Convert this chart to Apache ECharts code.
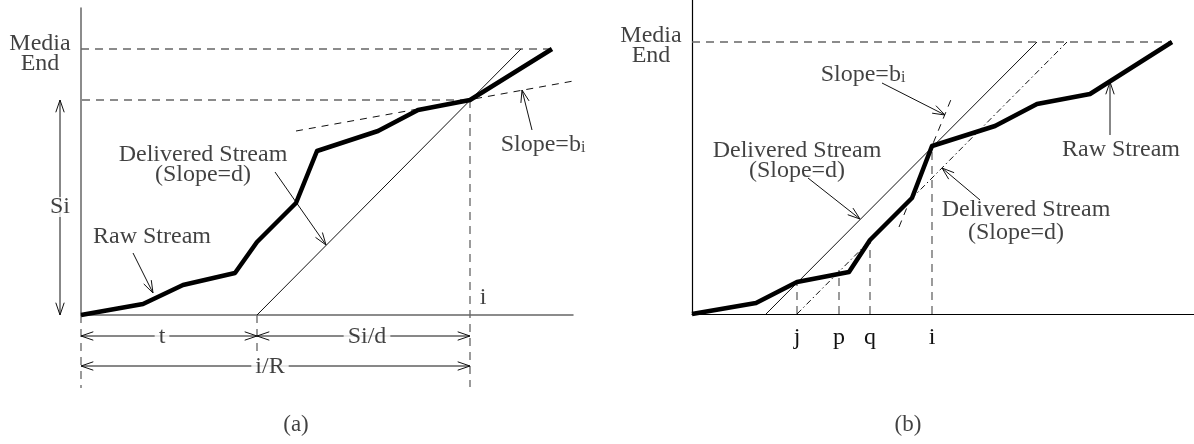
<!DOCTYPE html>
<html><head><meta charset="utf-8">
<script src="https://cdn.jsdelivr.net/npm/echarts@6/dist/echarts.min.js"></script>
<style>html,body{margin:0;padding:0;background:#fff}#chart{width:1194px;height:444px}</style>
</head><body><div id="chart"></div>
<script>
// ---------- panel (a): bytes vs. time ----------
const rawStreamA = [[0,0],[62,11],[102,30],[154,42],[176,73],[215,112],[236,164],[297,184],[337,205],[389,215],[471,266]];
const deliveredA = [[176,0],[440,266]];
const slopeBiA = [[215,184],[498,235]];
const guidesA = [
  [[0,266],[471,266]],      // media end
  [[-41,215],[389,215]],    // Si level
  [[-41,0],[0,0]],
  [[389,215],[389,-72]],    // i
  [[0,0],[0,-73]],
  [[176,0],[176,-42]]
];
// arrows: x1, y1, x2, y2, head at start, head at end
const arrowsA = [
  [-21,0,-21,215,1,1],
  [0,-21,176,-21,1,1],
  [176,-21,389,-21,1,1],
  [0,-51,389,-51,1,1],
  [52,62,72,22,0,1],
  [194,143,245,70,0,1],
  [451,185,441,225,0,1]
];
const labelsA = [
  ['Media\nEnd',-41,261],
  ['Si',-21,108,'box'],
  ['t',81,-22,'box'],
  ['Si/d',286,-22,'box'],
  ['i/R',189,-52,'box'],
  ['Raw Stream',71,78],
  ['Delivered Stream\n(Slope=d)',122,150],
  ['Slope=b_i',462,170],
  ['i',402,17],
  ['(a)',215,-110]
];

// ---------- panel (b) ----------
const rawStreamB = [[0,0],[64,11],[105,32],[157,42],[178,74],[220,116],[240,168],[303,188],[345,210],[398,220],[480,272]];
const deliveredB = [[74,0],[345,272]];
const deliveredLateB = [[105,0],[375,272]];
const slopeBiB = [[207,87],[260,217]];
const guidesB = [
  [[0,272],[480,272]],
  [[105,0],[105,32]],
  [[147,0],[147,44]],
  [[178,0],[178,74]],
  [[240,0],[240,168]]
];
const tickValuesB = [105,147,178,240];
const tickLabelsB = ['j','p','q','i'];
const arrowsB = [
  [190,231,253,199,0,1],
  [116,136,168,95,0,1],
  [418,179,418,232,0,1],
  [288,114,250,146,0,1]
];
const labelsB = [
  ['Media\nEnd',-41,268],
  ['Slope=b_i',171,239],
  ['Delivered Stream\n(Slope=d)',105,153],
  ['Raw Stream',429,164],
  ['Delivered Stream',334,104],
  ['(Slope=d)',324,81],
  ['(b)',216,-111]
];

const FONT = 'Liberation Serif';
const INK = '#111';
const GRAY = '#666';

function lineSeries(data, idx, style) {
  return {
    type: 'line', xAxisIndex: idx, yAxisIndex: idx, data: data,
    symbol: 'none', clip: false, animation: false, silent: true,
    lineStyle: style, z: style.z || 3
  };
}

function arrowSeries(data, idx) {
  return {
    type: 'custom', xAxisIndex: idx, yAxisIndex: idx, data: data, clip: false,
    animation: false, silent: true, z: 4,
    renderItem: function (params, api) {
      const a = api.coord([api.value(0), api.value(1)]);
      const b = api.coord([api.value(2), api.value(3)]);
      const ang = Math.atan2(b[1] - a[1], b[0] - a[0]);
      const L = 13, w = 0.33;
      const style = { stroke: INK, lineWidth: 1, fill: null };
      const kids = [{ type: 'line', shape: { x1: a[0], y1: a[1], x2: b[0], y2: b[1] }, style: style }];
      function head(p, dir) {
        kids.push({ type: 'polyline', shape: { points: [
          [p[0] - L * Math.cos(dir - w), p[1] - L * Math.sin(dir - w)], p,
          [p[0] - L * Math.cos(dir + w), p[1] - L * Math.sin(dir + w)]
        ] }, style: style });
      }
      if (api.value(4)) head(a, ang + Math.PI);
      if (api.value(5)) head(b, ang);
      return { type: 'group', children: kids };
    }
  };
}

function labelSeries(data, idx) {
  return {
    type: 'scatter', xAxisIndex: idx, yAxisIndex: idx, symbolSize: 0, clip: false,
    animation: false, silent: true, z: 10,
    data: data.map(function (d) {
      const item = { name: d[0], value: [d[1], d[2]] };
      if (d[0].indexOf('_') >= 0) {
        const parts = d[0].split('_');
        item.label = { formatter: '{n|' + parts[0] + '}{s|' + parts[1] + '}' };
      }
      if (d[3] === 'box') item.label = Object.assign(item.label || {}, { backgroundColor: '#fff', padding: [0, 4] });
      if (d[0] === '(a)' || d[0] === '(b)') item.label = Object.assign(item.label || {}, { fontSize: 23 });
      return item;
    }),
    label: {
      show: true, position: 'inside', color: INK, fontFamily: FONT, fontSize: 24,
      lineHeight: 20, align: 'center', verticalAlign: 'middle',
      formatter: function (p) { return p.name; },
      rich: {
        n: { fontFamily: FONT, fontSize: 24, color: INK },
        s: { fontFamily: FONT, fontSize: 16, color: INK, padding: [6, 0, 0, 0] }
      }
    }
  };
}

const chart = echarts.init(document.getElementById('chart'), null, { renderer: 'canvas' });

const dashed = { color: GRAY, width: 1.3, type: [8, 6] };

const series = [];
guidesA.forEach(function (g) { series.push(lineSeries(g, 0, dashed)); });
series.push(lineSeries(slopeBiA, 0, { color: INK, width: 1, type: [7, 6] }));
series.push(lineSeries(deliveredA, 0, { color: INK, width: 1 }));
series.push(lineSeries(rawStreamA, 0, { color: '#000', width: 4.5, z: 5, join: 'round' }));
series.push(arrowSeries(arrowsA, 0));
series.push(labelSeries(labelsA, 0));

guidesB.forEach(function (g) { series.push(lineSeries(g, 1, dashed)); });
series.push(lineSeries(slopeBiB, 1, { color: INK, width: 1, type: [7, 6] }));
series.push(lineSeries(deliveredB, 1, { color: INK, width: 1 }));
series.push(lineSeries(deliveredLateB, 1, { color: INK, width: 1, type: [6, 3, 1.5, 3] }));
series.push(lineSeries(rawStreamB, 1, { color: '#000', width: 4.5, z: 5, join: 'round' }));
series.push(arrowSeries(arrowsB, 1));
series.push(labelSeries(labelsB, 1));

function hiddenBits(extra) {
  return Object.assign({
    axisTick: { show: false }, splitLine: { show: false }, axisLabel: { show: false }
  }, extra);
}

chart.setOption({
  backgroundColor: '#fff',
  animation: false,
  grid: [
    { left: 81, top: 8, width: 492, height: 307 },
    { left: 692, top: 0, width: 502, height: 314 }
  ],
  xAxis: [
    hiddenBits({ type: 'value', gridIndex: 0, min: 0, max: 492,
      axisLine: { show: true, lineStyle: { color: GRAY, width: 1.5 } } }),
    hiddenBits({ type: 'value', gridIndex: 1, min: 0, max: 502,
      axisLine: { show: true, lineStyle: { color: '#000', width: 1.2 } },
      axisLabel: { show: true, customValues: tickValuesB, margin: 12,
        color: INK, fontFamily: FONT, fontSize: 24,
        formatter: function (v) { const k = tickValuesB.indexOf(v); return k >= 0 ? tickLabelsB[k] : ''; } } })
  ],
  yAxis: [
    hiddenBits({ type: 'value', gridIndex: 0, min: 0, max: 307,
      axisLine: { show: true, lineStyle: { color: GRAY, width: 1.5 } } }),
    hiddenBits({ type: 'value', gridIndex: 1, min: 0, max: 314,
      axisLine: { show: true, lineStyle: { color: '#000', width: 1.2 } } })
  ],
  series: series
});
</script></body></html>
